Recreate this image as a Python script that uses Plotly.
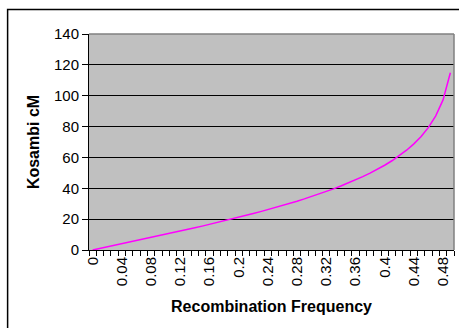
import plotly.graph_objects as go

# Recombination frequency categories
rec_freq = [round(i * 0.01, 2) for i in range(50)]
# Kosambi map distance (cM)
kosambi_cm = [0.0, 1.0, 2.0, 3.0, 4.01, 5.02, 6.03, 7.05, 8.07, 9.10,
              10.14, 11.18, 12.24, 13.31, 14.38, 15.48, 16.58, 17.70, 18.84, 20.00,
              21.18, 22.38, 23.61, 24.87, 26.15, 27.47, 28.82, 30.21, 31.64, 33.12,
              34.66, 36.25, 37.91, 39.64, 41.46, 43.37, 45.38, 47.52, 49.81, 52.27,
              54.93, 57.84, 61.06, 64.67, 68.79, 73.61, 79.45, 86.90, 97.30, 114.88]
x_tick_vals = [0, 0.04, 0.08, 0.12, 0.16, 0.2, 0.24, 0.28, 0.32, 0.36, 0.4, 0.44, 0.48]
x_tick_text = ["0", "0.04", "0.08", "0.12", "0.16", "0.2", "0.24", "0.28",
               "0.32", "0.36", "0.4", "0.44", "0.48"]
y_tick_vals = [0, 20, 40, 60, 80, 100, 120, 140]

FONT = "Liberation Sans, Arial, sans-serif"

fig = go.Figure()
fig.add_trace(go.Scatter(x=rec_freq, y=kosambi_cm, mode="lines",
                         line=dict(color="#FF00FF", width=1.5),
                         showlegend=False, hoverinfo="skip"))

W, H = 459, 328
L, R, T, B = 89, 4.5, 34, 78
pw, ph = W - L - R, H - T - B

def px(x):
    return (x - L) / pw

def py(y):
    return (H - B - y) / ph

fig.update_layout(
    width=W, height=H,
    margin=dict(l=L, r=R, t=T, b=B, pad=0),
    paper_bgcolor="white",
    plot_bgcolor="#C0C0C0",
    font=dict(family=FONT, color="black", size=15),
    xaxis=dict(
        range=[-0.005, 0.495],
        tickmode="array", tickvals=x_tick_vals, ticktext=x_tick_text,
        tickangle=-90, ticks="", ticklen=0,
        tickfont=dict(size=15),
        showgrid=False, zeroline=False,
        showline=True, linecolor="black", linewidth=1,
        minor=dict(ticks="outside", tick0=0.005, dtick=0.01, ticklen=5,
                   tickcolor="black", tickwidth=1, showgrid=False),
        title=dict(text="<b>Recombination Frequency</b>", font=dict(size=16), standoff=15),
        fixedrange=True,
    ),
    yaxis=dict(
        range=[0, 140], tickmode="array", tickvals=y_tick_vals,
        ticks="outside", ticklen=6, tickcolor="black", tickwidth=1,
        tickfont=dict(size=15),
        showgrid=True, gridcolor="black", gridwidth=1,
        zeroline=False,
        showline=True, linecolor="black", linewidth=1,
        title=dict(text="<b>Kosambi cM</b>", font=dict(size=16), standoff=10),
        fixedrange=True,
    ),
    shapes=[
        dict(type="line", xref="paper", yref="paper", x0=0, x1=1, y0=1, y1=1,
             line=dict(color="#808080", width=1.5)),
        dict(type="line", xref="paper", yref="paper", x0=1, x1=1, y0=0, y1=1,
             line=dict(color="#808080", width=1.5)),
        dict(type="rect", xref="paper", yref="paper",
             x0=px(7.5), x1=px(475), y0=py(9.5), y1=py(345),
             line=dict(color="black", width=1.5), fillcolor="rgba(0,0,0,0)"),
    ],
)

fig.write_html("out.html", config={"displayModeBar": False},
               post_script="document.body.style.margin='0px';")
